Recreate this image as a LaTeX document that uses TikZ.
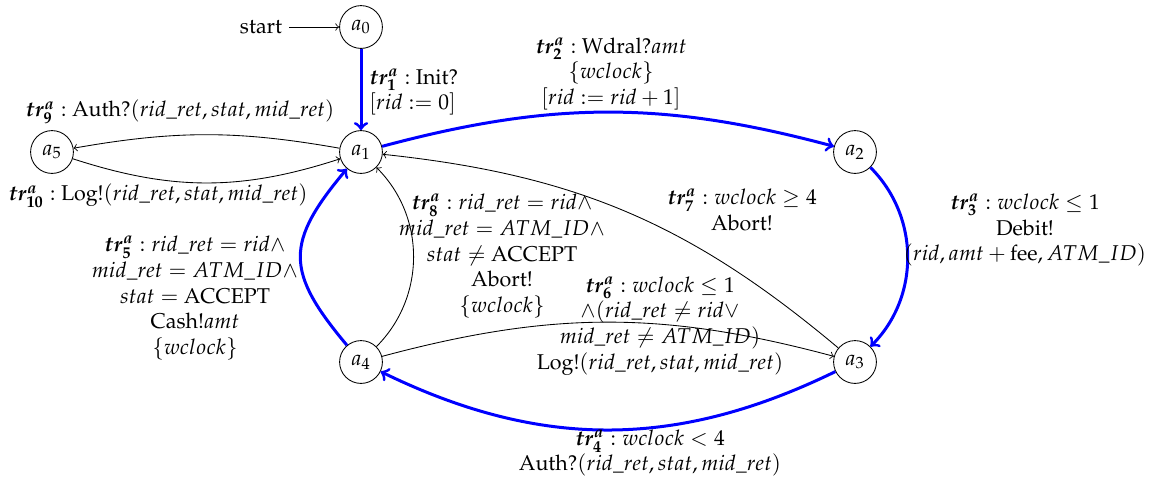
\documentclass[tikz,border=0pt]{standalone}
\usepackage[T1]{fontenc}
\usepackage{mathpazo}
\usepackage{amsmath}
\usepackage{bm}
\begin{document}
\begin{tikzpicture}[x=0.467pt,y=0.467pt,
  st/.style={circle,draw,minimum size=20pt,inner sep=0pt},
  thinedge/.style={->,thin},
  blueedge/.style={->,blue,line width=1.4pt},
  lbl/.style={align=center,inner sep=0pt}]
\useasboundingbox (0,0) rectangle (1151,-483);
\node[st] (a0) at (361,-27) {$a_0$};
\node[st] (a1) at (361,-152) {$a_1$};
\node[st] (a5) at (52,-152) {$a_5$};
\node[st] (a2) at (855,-152) {$a_2$};
\node[st] (a3) at (855,-362) {$a_3$};
\node[st] (a4) at (361,-362) {$a_4$};
\node[inner sep=3pt,anchor=east] (s) at (289,-27) {start};
\draw[thinedge] (s) -- (a0);
% blue transitions
\draw[blueedge] (a0) -- (a1);
\draw[blueedge] (a1) to[bend left=15] (a2);
\draw[blueedge] (a2) to[bend left=45] (a3);
\draw[blueedge] (a3) to[bend left=26] (a4);
\draw[blueedge] (a4) to[out=130,in=-130,looseness=1.4] (a1);
% thin transitions
\draw[thinedge] (a1) to[bend right=10] (a5);
\draw[thinedge] (a5) to[bend right=18] (a1);
\draw[thinedge] (a4) to[bend right=45] (a1);
\draw[thinedge] (a4) to[bend left=15] (a3);
\draw[thinedge] (a3) to[bend right=17] (a1);
% labels
\node[lbl,align=left,anchor=west] (l1) at (369,-92) {$\bm{tr^a_1} :$ Init?\\$[rid := 0]$};
\node[lbl] (l2) at (611,-74) {$\bm{tr^a_2} :$ Wdral?$amt$\\$\{wclock\}$\\$[rid := rid+1]$};
\node[lbl] (l9) at (180,-112) {$\bm{tr^a_9} :$ Auth?$(rid\_ret, stat, mid\_ret)$};
\node[lbl] (l10) at (158,-196) {$\bm{tr^a_{10}} :$ Log!$(rid\_ret, stat, mid\_ret)$};
\node[lbl] (l5) at (195,-298) {$\bm{tr^a_5} : rid\_ret = rid \wedge$\\$mid\_ret = ATM\_ID \wedge$\\$stat =$ ACCEPT\\Cash!$amt$\\$\{wclock\}$};
\node[lbl] (l8) at (502,-256) {$\bm{tr^a_8} : rid\_ret = rid \wedge$\\$mid\_ret = ATM\_ID \wedge$\\$stat \neq$ ACCEPT\\Abort!\\$\{wclock\}$};
\node[lbl] (l7) at (742,-210) {$\bm{tr^a_7} : wclock \geq 4$\\Abort!};
\node[lbl] (l3) at (1025,-230) {$\bm{tr^a_3} : wclock \leq 1$\\Debit!\\$(rid, amt + \text{fee}, ATM\_ID)$};
\node[lbl] (l6) at (660,-326) {$\bm{tr^a_6} : wclock \leq 1$\\$\wedge(rid\_ret \neq rid \vee$\\$mid\_ret \neq ATM\_ID)$\\Log!$(rid\_ret, stat, mid\_ret)$};
\node[lbl] (l4) at (650,-453) {$\bm{tr^a_4} : wclock < 4$\\Auth?$(rid\_ret, stat, mid\_ret)$};
\end{tikzpicture}
\end{document}
